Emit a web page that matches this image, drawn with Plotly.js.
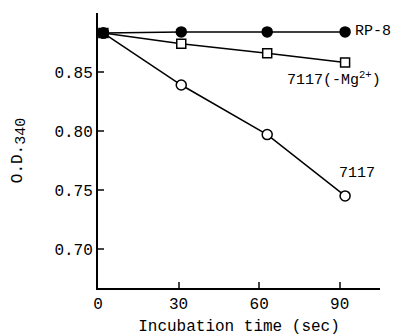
<!DOCTYPE html>
<html><head><meta charset="utf-8">
<script src="https://cdn.plot.ly/plotly-3.0.1.min.js"></script>
<style>html,body{margin:0;padding:0;background:#fff}#c{width:396px;height:336px}</style>
</head><body><div id="c"></div>
<script>
const time = [2, 31, 63, 92];
const rp8 = [0.883, 0.884, 0.884, 0.884];
const mgFree = [0.883, 0.874, 0.866, 0.858];
const s7117 = [0.883, 0.839, 0.797, 0.745];
const xTicks = [0, 30, 60, 90];
const yTicks = [0.70, 0.75, 0.80, 0.85];
const yTickText = ['0.70', '0.75', '0.80', '0.85'];
const seriesLabels = ['RP-8', '7117(-Mg<sup>2+</sup>)', '7117'];

const F = {family: 'Liberation Mono, Courier New, monospace', size: 16, color: '#000'};
function tr(y, sym, fill, size) {
  return {x: time, y: y, mode: 'lines+markers', type: 'scatter',
    line: {color: '#000', width: 1.5},
    marker: {symbol: sym, size: size, color: fill, line: {color: '#000', width: 1.5}},
    cliponaxis: false, showlegend: false, hoverinfo: 'skip'};
}
const data = [tr(s7117, 'circle', '#fff', 10), tr(mgFree, 'square', '#fff', 9), tr(rp8, 'circle', '#000', 10)];
const layout = {
  width: 396, height: 336,
  margin: {l: 98, r: 16, t: 13, b: 48},
  paper_bgcolor: '#fff', plot_bgcolor: '#fff',
  font: F,
  xaxis: {range: [0, 105], tickvals: xTicks, ticks: 'inside', ticklen: 6, tickwidth: 2,
    showline: true, linewidth: 2, linecolor: '#000', showgrid: false, zeroline: false,
    tickfont: F, title: {text: 'Incubation time (sec)', font: F, standoff: 8}},
  yaxis: {range: [0.667, 0.90], tickvals: yTicks, ticktext: yTickText, ticks: 'inside', ticklen: 6, tickwidth: 2,
    showline: true, linewidth: 2, linecolor: '#000', showgrid: false, zeroline: false,
    tickfont: F, title: {text: 'O.D.<sub><span style="font-size:15px">340</span></sub>', font: F, standoff: 28}},
  annotations: [
    {x: time[3], y: rp8[3], xref: 'x', yref: 'y', text: seriesLabels[0], showarrow: false, xanchor: 'left', xshift: 8, font: {family: F.family, size: 15, color: '#000'}},
    {x: time[3], y: mgFree[3], xref: 'x', yref: 'y', text: seriesLabels[1], showarrow: false, xanchor: 'right', yanchor: 'top', xshift: 38, yshift: -4, font: {family: F.family, size: 15, color: '#000'}},
    {x: time[3], y: s7117[3], xref: 'x', yref: 'y', text: seriesLabels[2], showarrow: false, xanchor: 'left', yanchor: 'bottom', xshift: -8, yshift: 12, font: {family: F.family, size: 15, color: '#000'}}
  ]
};
Plotly.newPlot('c', data, layout, {staticPlot: true});
</script></body></html>
